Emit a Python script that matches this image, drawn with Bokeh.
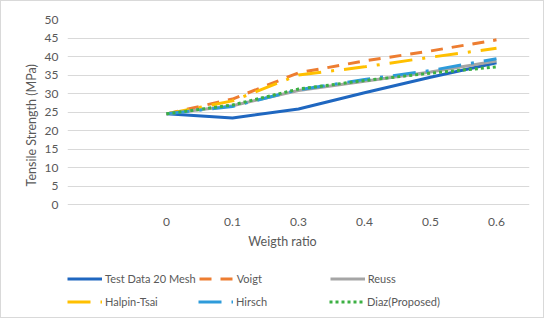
from bokeh.plotting import figure
from bokeh.models import Range1d, FactorRange, Legend, LegendItem, FixedTicker
from bokeh.core.properties import value
from bokeh.embed import file_html
from bokeh.resources import INLINE

# ---- data ----
categories = [" ", "0", "0.1", "0.3", "0.4", "0.5", "0.6"]
x_cats = ["0", "0.1", "0.3", "0.4", "0.5", "0.6"]
test_data = [24.5, 23.4, 25.8, 30.2, 34.4, 38.3]
voigt = [24.5, 28.5, 35.6, 38.8, 41.5, 44.5]
reuss = [24.5, 26.7, 30.8, 33.3, 35.8, 38.8]
halpin = [24.5, 28.0, 35.0, 37.2, 39.8, 42.2]
hirsch = [24.5, 26.5, 31.0, 33.8, 36.2, 39.4]
diaz = [24.5, 26.9, 31.2, 33.5, 35.5, 37.2]
y_ticks = [0, 5, 10, 15, 20, 25, 30, 35, 40, 45, 50]
x_title = "Weigth ratio"
y_title = "Tensile Strength (MPa)"

FONT = "Lato"
GRAY = "#595959"

p = figure(frame_width=462, frame_height=296, output_backend="svg", toolbar_location=None,
           x_range=FactorRange(*categories), y_range=Range1d(-30, 50),
           min_border_left=66, min_border_right=14, min_border_top=18, min_border_bottom=2)
p.outline_line_color = None
p.styles = {"border": "1px solid #D9D9D9", "box-sizing": "border-box"}

series = [
    ("Test Data 20 Mesh", test_data, "#1F67C0", None),
    ("Voigt", voigt, "#ED7D31", "12 9"),
    ("Reuss", reuss, "#A5A5A5", None),
    ("Halpin-Tsai", halpin, "#FFC000", "23 10 3 10"),
    ("Hirsch", hirsch, "#2E9BDA", "23 10 3 10"),
    ("Diaz(Proposed)", diaz, "#3CB043", "3 3"),
]
items = []
for name, vals, color, dash in series:
    kw = dict(line_color=color, line_width=3)
    if dash:
        kw["line_dash"] = dash
    r = p.line(x_cats, vals, **kw)
    items.append(LegendItem(label=name, renderers=[r]))

# y axis
p.yaxis.ticker = FixedTicker(ticks=y_ticks)
p.yaxis.axis_line_color = None
p.yaxis.major_tick_line_color = None
p.yaxis.minor_tick_line_color = None
p.yaxis.major_label_text_font = FONT
p.yaxis.major_label_text_font_size = "12px"
p.yaxis.major_label_text_color = GRAY
p.yaxis.major_label_standoff = 3
p.yaxis.axis_label = "\u2003" * 9 + y_title
p.yaxis.axis_label_text_font = FONT
p.yaxis.axis_label_text_font_style = "normal"
p.yaxis.axis_label_text_font_size = "12.5px"
p.yaxis.axis_label_text_color = GRAY
p.yaxis.axis_label_standoff = 3

# x axis drawn as text inside the frame (category labels + title)
p.xaxis.visible = False
p.text(x=x_cats, y=[-4.6] * len(x_cats), text=x_cats,
       text_align="center", text_baseline="middle",
       text_font=value(FONT), text_font_size="12px", text_color=GRAY)
p.text(x=["0.3"], y=[-10.0], text=[x_title], x_offset=-16,
       text_align="center", text_baseline="middle",
       text_font=value(FONT), text_font_size="12.5px", text_color=GRAY)

p.xgrid.grid_line_color = None
p.ygrid.grid_line_color = "#D9D9D9"
p.ygrid.grid_line_width = 1

for row, loc in ((items[:3], (0, 25)), (items[3:], (0, 2))):
    lg = Legend(items=row, orientation="horizontal", location=loc,
                glyph_width=35, glyph_height=23, label_height=23,
                label_width=90, label_standoff=3, spacing=3,
                label_text_font=FONT, label_text_font_size="11px",
                label_text_color=GRAY, border_line_color=None,
                background_fill_alpha=0, padding=0, margin=0)
    p.add_layout(lg, "center")

open("out.html", "w").write(file_html(p, INLINE))
